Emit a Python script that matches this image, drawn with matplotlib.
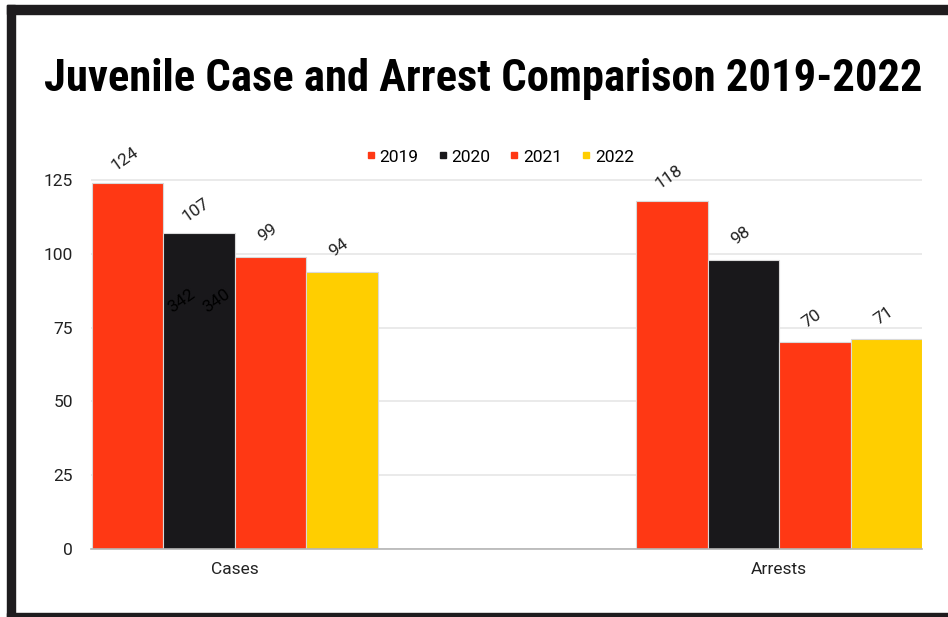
import matplotlib
matplotlib.use("Agg")
import matplotlib.pyplot as plt
from matplotlib.patches import Rectangle
from matplotlib.lines import Line2D
from matplotlib import font_manager
import numpy as np

categories = ["Cases", "Arrests"]
years = ["2019", "2020", "2021", "2022"]
values = {
    "2019": [124, 118],
    "2020": [107, 98],
    "2021": [99, 70],
    "2022": [94, 71],
}
colors = {"2019": "#FF3814", "2020": "#19181B", "2021": "#FF3814", "2022": "#FFCE00"}
yticks = [0, 25, 50, 75, 100, 125]
stray_labels = ["342", "340"]
title = "Juvenile Case and Arrest Comparison 2019-2022"

W, H = 948, 617
fig = plt.figure(figsize=(W / 100, H / 100), dpi=100)
fig.patch.set_facecolor("white")

px_per_unit = (549 - 180) / 125.0
ytop = 131
ax_bottom_px = 549
ax_top_px = 549 - ytop * px_per_unit
ax = fig.add_axes([91 / W, 1 - ax_bottom_px / H, (922 - 91) / W, (ax_bottom_px - ax_top_px) / H])

x = np.arange(len(categories))
bw = 0.1313
font = "Roboto"
txtc = "#222222"

for i, yr in enumerate(years):
    offs = (i - 1.5) * bw
    bars = ax.bar(x + offs, values[yr], width=bw, color=colors[yr],
                  edgecolor="#d9d9d9", linewidth=0.8, zorder=3)
    for b, v in zip(bars, values[yr]):
        ax.annotate(str(v), (b.get_x() + b.get_width() / 2, v),
                    xytext=(-2, 17), textcoords="offset points",
                    ha="center", va="center", rotation=35,
                    fontsize=12.5, color=txtc, family=font, zorder=5)

# stray labels drawn over the 2020 "Cases" bar
b2020 = (1 - 1.5) * bw
for lab, dx in zip(stray_labels, [-12, 13]):
    ax.annotate(lab, (x[0] + b2020, values["2020"][0]),
                xytext=(dx, -49), textcoords="offset points",
                ha="center", va="center", rotation=35,
                fontsize=12.5, color="#000000", family=font, zorder=5)

ax.set_xlim(-0.2636, 1.2626)
ax.set_ylim(0, ytop)
ax.set_yticks(yticks)
ax.set_yticklabels([str(t) for t in yticks], family=font, fontsize=12.5, color=txtc)
ax.set_xticks(x)
ax.set_xticklabels(categories, family=font, fontsize=12.5, color=txtc)
ax.tick_params(axis="both", length=0)
ax.tick_params(axis="y", pad=13)
ax.tick_params(axis="x", pad=9)
for s in ["top", "right", "left"]:
    ax.spines[s].set_visible(False)
ax.spines["bottom"].set_color("#b5b5b5")
ax.spines["bottom"].set_linewidth(1.2)
ax.spines["bottom"].set_zorder(4)
ax.yaxis.grid(True, color="#e6e6e6", linewidth=1.2, zorder=0)
ax.set_axisbelow(True)

handles = [Line2D([], [], marker="s", linestyle="none", markersize=4.5,
                  color=colors[yr]) for yr in years]
fig.legend(handles, years, loc="center", bbox_to_anchor=(498 / W, 1 - 157 / H),
           ncol=4, frameon=False, handletextpad=0.0, columnspacing=0.9,
           handlelength=1.0, prop={"family": font, "size": 12.5})

# pick a condensed font for the title if available
avail = {f.name for f in font_manager.fontManager.ttflist}
title_family = "DejaVu Sans"
for cand in ["Liberation Sans Narrow", "Roboto Condensed", "Open Sans Condensed",
             "DejaVu Sans Condensed"]:
    if cand in avail:
        title_family = cand
        break
tt = fig.text(483.5 / W, 1 - 79 / H, title, ha="center", va="center",
              fontsize=30, fontweight="heavy", family=title_family,
              fontstretch="condensed", color="#000000")
renderer = fig.canvas.get_renderer()
target_w = 922 - 45
for _ in range(3):
    w = tt.get_window_extent(renderer).width
    tt.set_fontsize(tt.get_fontsize() * target_w / w)

bc = "#1e1c1e"
fig.add_artist(Rectangle((7 / W, 0), 8 / W, 1 - 5 / H, transform=fig.transFigure,
                         color=bc, zorder=10))
fig.add_artist(Rectangle((7 / W, 1 - 14 / H), 1, 9 / H, transform=fig.transFigure,
                         color=bc, zorder=10))
fig.add_artist(Rectangle((7 / W, 0), 1, 4 / H, transform=fig.transFigure,
                         color=bc, zorder=10))

fig.savefig("out.png", dpi=100, facecolor="white")
